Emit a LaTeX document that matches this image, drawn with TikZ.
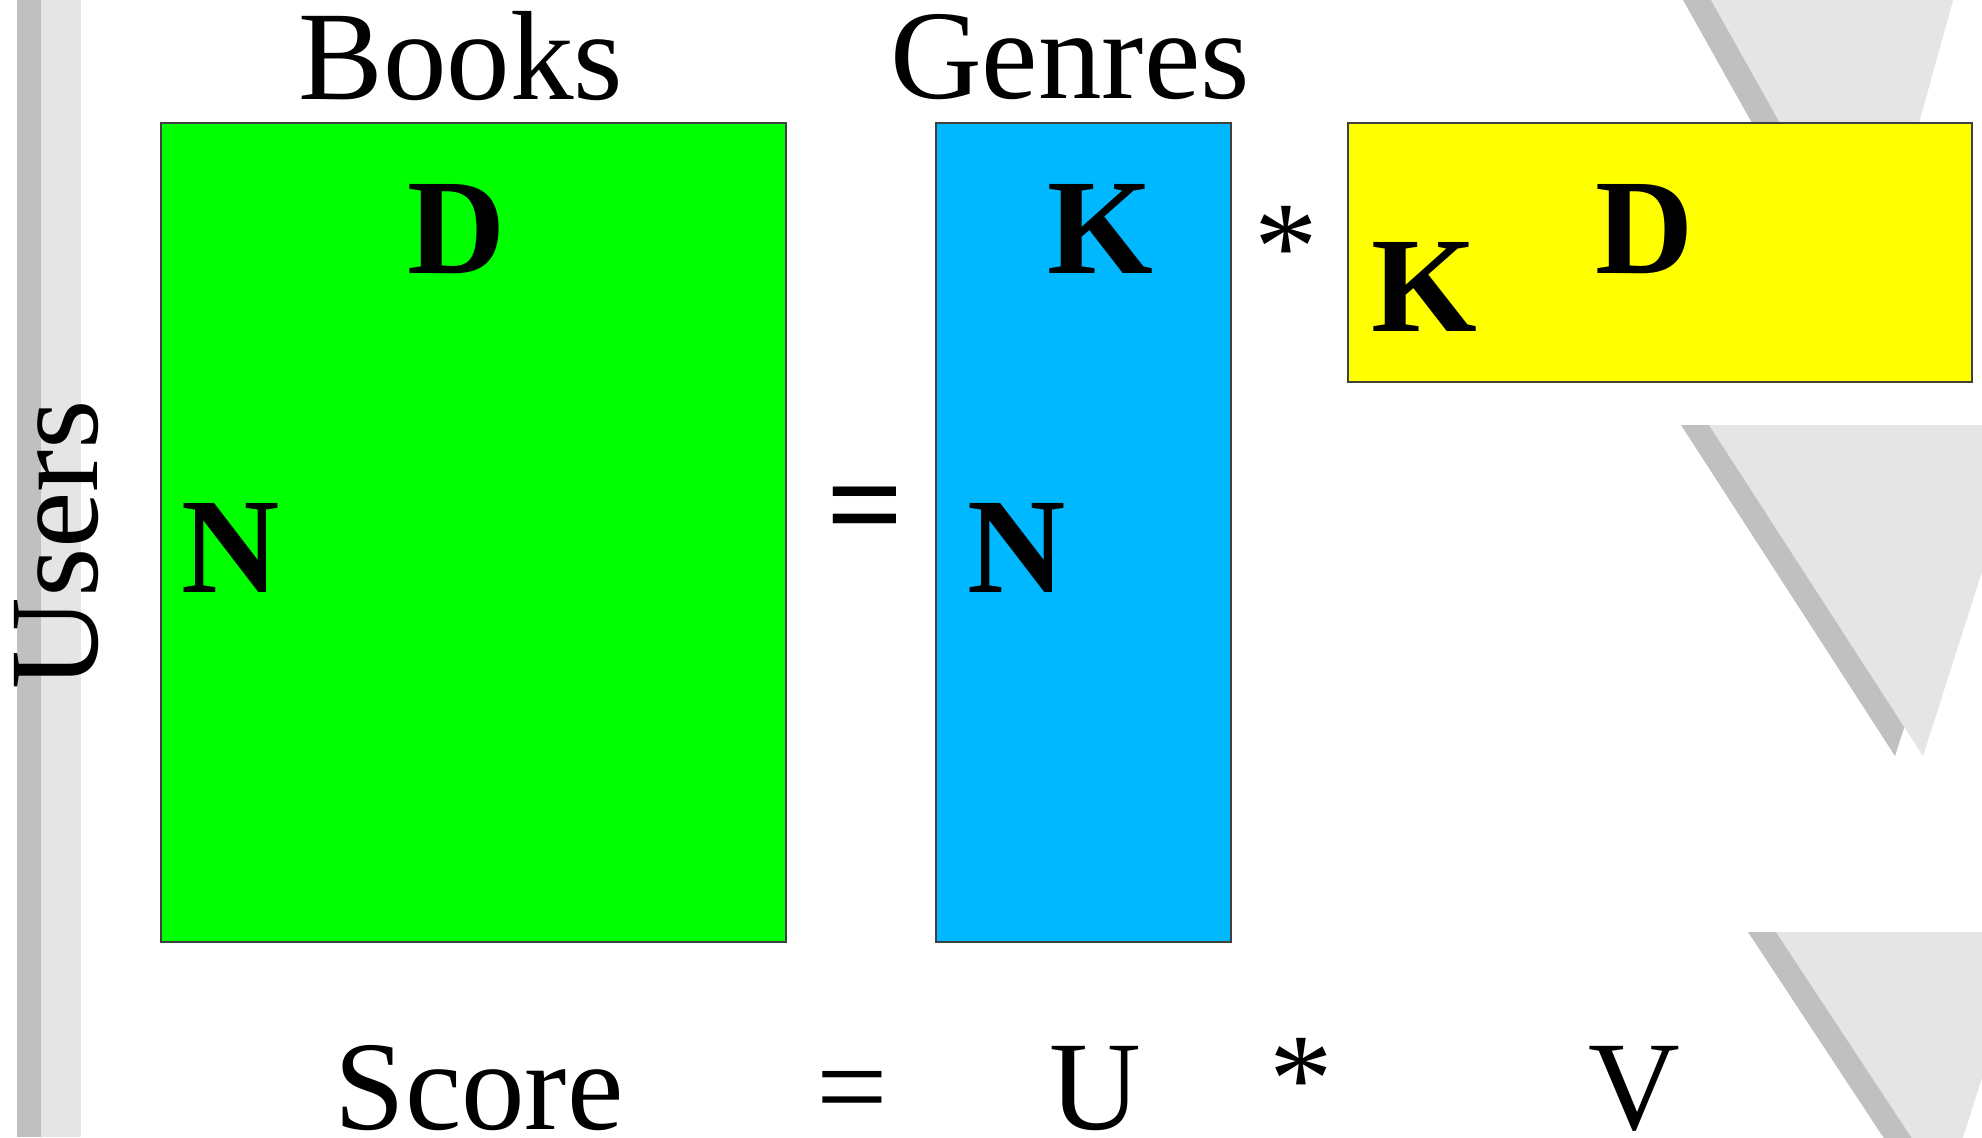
\documentclass[tikz,border=0pt]{standalone}
\usepackage{fontspec}
\setmainfont{Liberation Serif}
\definecolor{matgreen}{RGB}{0,255,0}
\definecolor{matblue}{RGB}{0,184,255}
\definecolor{matyellow}{RGB}{255,255,0}
\definecolor{shadegray}{RGB}{192,192,192}
\definecolor{palegray}{RGB}{229,229,229}
\begin{document}
\begin{tikzpicture}[x=0.5pt,y=-0.5pt,
  matrixbox/.style={draw=black!75, line width=0.75pt},
  head/.style={font=\fontsize{63.5}{70}\selectfont, inner sep=0pt, anchor=base},
  formula/.style={head, text depth=0pt},
  dimlabel/.style={font=\fontsize{68}{75}\selectfont\bfseries, inner sep=0pt, anchor=base},
]
\useasboundingbox (0,0) rectangle (1982,1137);
\clip (0,0) rectangle (1982,1137);

% vertical stripes on the left
\fill[shadegray] (17,0) rectangle (41,1137);
\fill[palegray] (41,0) rectangle (81,1137);

% decorative triangles with offset shadows
\fill[shadegray] (1655,-50) -- (1939,-50) -- (1845,289) -- cycle;
\fill[palegray]  (1683,-50) -- (1967,-50) -- (1873,289) -- cycle;
\fill[shadegray] (1681,425) -- (2001,425) -- (1895,756) -- cycle;
\fill[palegray]  (1709,425) -- (2029,425) -- (1923,756) -- cycle;
\fill[shadegray] (1748,932) -- (2001,932) -- (1918,1190) -- cycle;
\fill[palegray]  (1776,932) -- (2029,932) -- (1946,1190) -- cycle;

% matrices
\draw[matrixbox, fill=matgreen]  (161,123) rectangle (786,942);
\draw[matrixbox, fill=matblue]   (936,123) rectangle (1231,942);
\draw[matrixbox, fill=matyellow] (1348,123) rectangle (1972,382);

% headings
\node[head] (books) at (461,99) {Books};
\node[head] (genres) at (1070,98) {Genres};
\node[head, rotate=90] (users) at (97,545) {Users};

% dimensions
\node[dimlabel] (dgreen) at (457,273) {D};
\node[dimlabel] (ngreen) at (231,592) {N};
\node[dimlabel] (kblue) at (1100,273) {K};
\node[dimlabel] (nblue) at (1017,592) {N};
\node[dimlabel] (kyellow) at (1424,331) {K};
\node[dimlabel] (dyellow) at (1645,273) {D};
\node[dimlabel] (eqmid) at (865,550) {=};
\node[head] (startop) at (1286,289) {*};

% formula
\node[formula] (score) at (479,1129) {Score};
\node[formula] (eqbot) at (852,1129) {=};
\node[formula] (uletter) at (1095,1129) {U};
\node[formula] (starbot) at (1301,1121) {*};
\node[formula] (vletter) at (1634,1129) {V};
\end{tikzpicture}
\end{document}
